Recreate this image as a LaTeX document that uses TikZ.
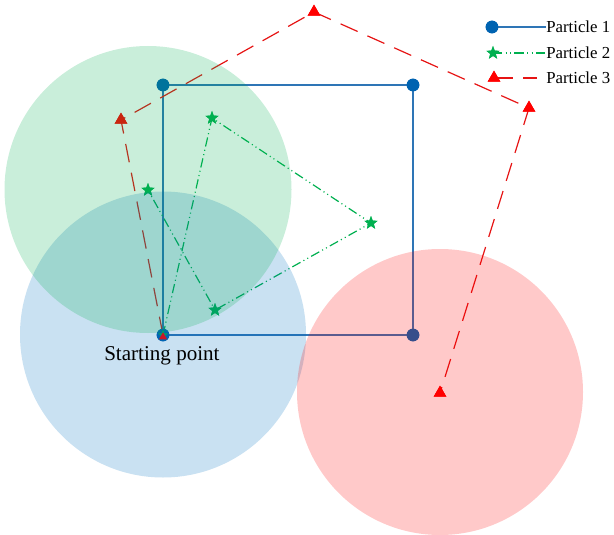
\documentclass[tikz,border=0pt]{standalone}
\usepackage{fontspec}
\setmainfont{Liberation Serif}
\usetikzlibrary{shapes.geometric}
\definecolor{pblue}{RGB}{0,99,177}
\definecolor{zblue}{RGB}{0,112,192}
\definecolor{lblue}{RGB}{46,117,182}
\definecolor{pgreen}{RGB}{0,176,80}
\definecolor{pred}{RGB}{255,0,0}
\definecolor{lred}{RGB}{230,20,20}
\tikzset{
  zone/.style={draw=none,fill opacity=0.21},
  mcirc/.style={circle,fill=pblue,inner sep=0pt,minimum size=9.5pt},
  mstar/.style={star,star points=5,star point ratio=2.4,fill=pgreen,inner sep=0pt,minimum size=10.5pt},
  mtri/.style={regular polygon,regular polygon sides=3,fill=pred,inner sep=0pt,minimum size=11pt},
  l1/.style={lblue,line width=1.1pt},
  l2/.style={pgreen,line width=0.9pt,dash pattern=on 7pt off 2.5pt on 0.8pt off 2.5pt on 0.8pt off 2.5pt},
  l3/.style={lred,line width=0.9pt,dash pattern=on 14pt off 8pt},
  lab/.style={font=\fontsize{12.6pt}{14pt}\selectfont,anchor=west,inner sep=0pt}
}
\begin{document}
\begin{tikzpicture}[x=0.75pt,y=-0.75pt]
\useasboundingbox (0,0) rectangle (614,535);
% particle 1
\node[mcirc] (a1) at (163,85) {};
\node[mcirc] (a2) at (413,85) {};
\node[mcirc] (a3) at (413,335) {};
\node[mcirc] (s) at (163,335) {};
\draw[l1] (s.center) -- (a1.center) -- (a2.center) -- (a3.center) -- (s.center);
% particle 2
\coordinate (s2) at (163,335);
\node[mstar] (b1) at (212,118) {};
\node[mstar] (b2) at (371,223) {};
\node[mstar] (b3) at (215,310) {};
\node[mstar] (b4) at (148,190) {};
\draw[l2] (s2) -- (b1.center) -- (b2.center) -- (b3.center) -- (b4.center);
% particle 3
\coordinate (s3) at (163,335);
\node[mtri] (c1) at (121,120) {};
\node[mtri] (c2) at (314,12) {};
\node[mtri] (c3) at (529,108) {};
\node[mtri] (c4) at (440,393) {};
\draw[l3] (s3) -- (c1.center) -- (c2.center) -- (c3.center) -- (c4.center);
% redraw markers on top
\foreach \n in {a1,a2,a3} \node[mcirc] at (\n) {};
\node[mcirc] at (s) {};
\node[mstar,minimum size=8pt] at (s) {};
\node[mtri,minimum size=7pt] at (163,337) {};
\foreach \n in {b1,b2,b3,b4} \node[mstar] at (\n) {};
\foreach \n in {c1,c2,c3,c4} \node[mtri] at (\n) {};
% zones (drawn over the paths)
\fill[zone,fill=zblue] (163,334.5) circle (143);
\fill[zone,fill=pgreen] (148,189.5) circle (143.5);
\fill[zone,fill=pred] (440,392) circle (143);
% label
\node[font=\fontsize{15.8pt}{18pt}\selectfont,anchor=west,inner sep=0pt] (st) at (104,356) {Starting point};
% legend
\node[mcirc] (g1) at (492,27) {};
\node[lab] (t1) at (546,27) {Particle 1};
\draw[l1] (g1.center) -- (t1.west);
\node[mstar] (g2) at (493,53) {};
\node[lab] (t2) at (546,53) {Particle 2};
\draw[l2] (g2.center) -- (t2.west);
\node[mtri] (g3) at (494,78) {};
\node[lab] (t3) at (546,78) {Particle 3};
\coordinate (e3) at (537,78);
\draw[l3] (g3.center) -- (e3);
\node[mcirc] at (g1) {};
\node[mstar] at (g2) {};
\node[mtri] at (g3) {};
\end{tikzpicture}
\end{document}
